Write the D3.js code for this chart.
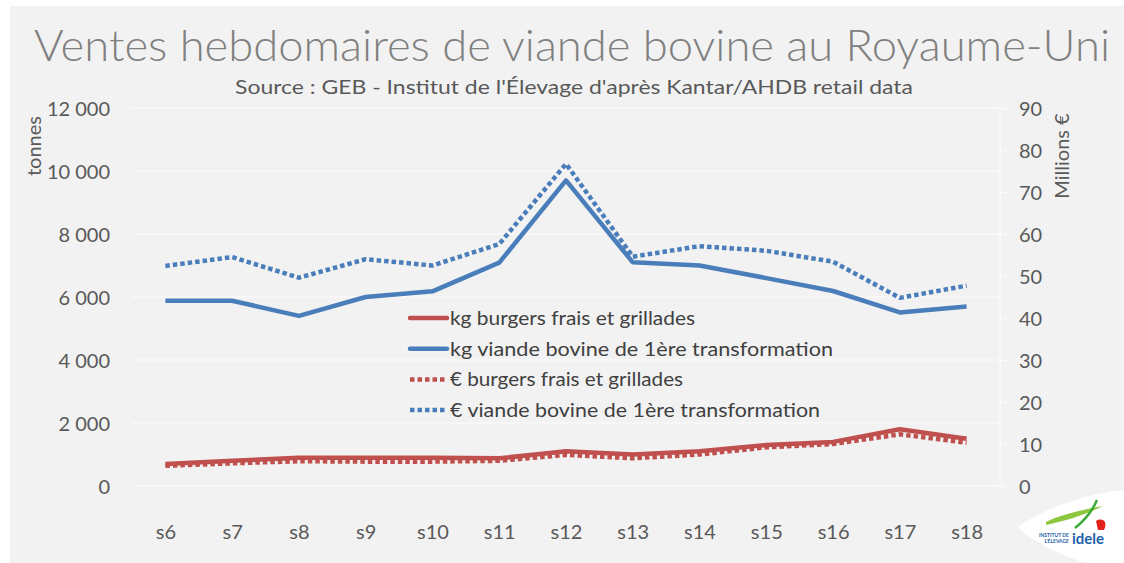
<!DOCTYPE html>
<html>
<head>
<meta charset="utf-8">
<script src="https://cdn.jsdelivr.net/npm/d3@7"></script>
<style>
  body { margin: 0; background: #fff; }
  svg { display: block; font-family: "Lato", "DejaVu Sans", sans-serif; }
</style>
</head>
<body>
<svg id="chart" width="1124" height="563"></svg>
<script>
// weekly data
var weeks = ["s6", "s7", "s8", "s9", "s10", "s11", "s12", "s13", "s14", "s15", "s16", "s17", "s18"];
var kgBurgers = [700, 800, 900, 900, 900, 880, 1100, 1000, 1100, 1300, 1400, 1800, 1500];
var kgViande = [5880, 5880, 5400, 6000, 6180, 7090, 9700, 7100, 7000, 6600, 6190, 5510, 5700];
var eurBurgers = [4.8, 5.4, 5.9, 5.8, 5.8, 6.0, 7.4, 6.6, 7.5, 9.2, 10.0, 12.3, 10.3];
var eurViande = [52.4, 54.5, 49.6, 54.0, 52.5, 57.6, 76.7, 54.6, 57.1, 56.0, 53.4, 44.8, 47.7];
var leftTicks = [0, 2000, 4000, 6000, 8000, 10000, 12000];
var rightTicks = [0, 10, 20, 30, 40, 50, 60, 70, 80, 90];
var legendNames = [
  "kg burgers frais et grillades",
  "kg viande bovine de 1ère transformation",
  "€ burgers frais et grillades",
  "€ viande bovine de 1ère transformation"
];

var RED = "#c0504d", BLUE = "#4a7ebb";

var svg = d3.select("#chart");

svg.append("rect")
  .attr("x", 10).attr("y", 6)
  .attr("width", 1114).attr("height", 557)
  .attr("fill", "#f2f2f2");

var plot = { left: 132, right: 1000, top: 108, bottom: 486 };

var x = d3.scalePoint()
  .domain(weeks)
  .range([plot.left, plot.right])
  .padding(0.5);

var yL = d3.scaleLinear().domain([0, 12000]).range([plot.bottom, plot.top]);
var yR = d3.scaleLinear().domain([0, 90]).range([plot.bottom, plot.top]);

// gridlines
svg.append("g")
  .selectAll("line")
  .data(leftTicks)
  .enter().append("line")
    .attr("x1", plot.left).attr("x2", plot.right)
    .attr("y1", function(d) { return yL(d); })
    .attr("y2", function(d) { return yL(d); })
    .attr("stroke", "#fbfbfb")
    .attr("stroke-width", 1.2);

// right axis line + ticks
svg.append("line")
  .attr("x1", plot.right).attr("x2", plot.right)
  .attr("y1", plot.top).attr("y2", plot.bottom)
  .attr("stroke", "#fbfbfb").attr("stroke-width", 1.2);

var fmt = function(d) { return d3.format(",")(d).replace(/,/g, " "); };

var leftAxis = svg.append("g")
  .attr("transform", "translate(" + plot.left + ",0)")
  .call(d3.axisLeft(yL).tickValues(leftTicks).tickFormat(fmt).tickSize(0).tickPadding(22));

var rightAxis = svg.append("g")
  .attr("transform", "translate(" + plot.right + ",0)")
  .call(d3.axisRight(yR).tickValues(rightTicks).tickSize(7).tickPadding(12));

var bottomAxis = svg.append("g")
  .attr("transform", "translate(0," + (plot.bottom + 46) + ")")
  .call(d3.axisBottom(x).tickSize(0).tickPadding(0));

[leftAxis, rightAxis, bottomAxis].forEach(function(a) {
  a.select(".domain").remove();
  a.selectAll("text")
    .attr("fill", "#595959")
    .style("font-family", "Lato, sans-serif")
    .style("font-size", "20px");
});
rightAxis.selectAll("line").attr("stroke", "#fbfbfb").attr("stroke-width", 1.2);
leftAxis.selectAll("text").attr("dy", "0.35em");
rightAxis.selectAll("text").attr("dy", "0.35em");
bottomAxis.selectAll("text").attr("dy", "0.35em");

// axis titles
svg.append("text")
  .attr("transform", "translate(41,146) rotate(-90)")
  .attr("text-anchor", "middle")
  .attr("fill", "#595959")
  .style("font-size", "20px")
  .text("tonnes");

svg.append("text")
  .attr("transform", "translate(1069,156) rotate(-90)")
  .attr("text-anchor", "middle")
  .attr("fill", "#595959")
  .style("font-size", "20px")
  .text("Millions €");

// series
var series = [
  { values: kgViande, scale: yL, color: BLUE, dash: null },
  { values: eurViande, scale: yR, color: BLUE, dash: "4.5,3" },
  { values: eurBurgers, scale: yR, color: RED, dash: "4.5,3" },
  { values: kgBurgers, scale: yL, color: RED, dash: null }
];

series.forEach(function(s) {
  var line = d3.line()
    .x(function(d, i) { return x(weeks[i]); })
    .y(function(d) { return s.scale(d); });
  svg.append("path")
    .datum(s.values)
    .attr("d", line)
    .attr("fill", "none")
    .attr("stroke", s.color)
    .attr("stroke-width", 4.5)
    .attr("stroke-linejoin", "round")
    .attr("stroke-dasharray", s.dash);
});

// legend
var legend = svg.append("g").attr("transform", "translate(410,318)");
var legendStyles = [
  { color: RED, dash: null, w: 245 },
  { color: BLUE, dash: null, w: 383 },
  { color: RED, dash: "4.5,3", w: 233 },
  { color: BLUE, dash: "4.5,3", w: 370 }
];
legendNames.forEach(function(name, i) {
  var g = legend.append("g").attr("transform", "translate(0," + (i * 30.7) + ")");
  g.append("line")
    .attr("x1", 0).attr("x2", 37)
    .attr("stroke", legendStyles[i].color)
    .attr("stroke-width", 4.5)
    .attr("stroke-linecap", legendStyles[i].dash ? "butt" : "round")
    .attr("stroke-dasharray", legendStyles[i].dash);
  g.append("text")
    .attr("x", 40).attr("dy", "0.35em")
    .attr("fill", "#404040")
    .attr("textLength", legendStyles[i].w)
    .attr("lengthAdjust", "spacingAndGlyphs")
    .style("font-size", "19.5px")
    .text(name);
});

// title
svg.append("text")
  .attr("x", 572).attr("y", 61)
  .attr("text-anchor", "middle")
  .attr("fill", "#808080")
  .attr("textLength", 1076)
  .attr("lengthAdjust", "spacingAndGlyphs")
  .style("font-size", "44px")
  .style("font-weight", 300)
  .text("Ventes hebdomaires de viande bovine au Royaume-Uni");

svg.append("text")
  .attr("x", 574).attr("y", 94)
  .attr("text-anchor", "middle")
  .attr("fill", "#595959")
  .attr("textLength", 678)
  .attr("lengthAdjust", "spacingAndGlyphs")
  .style("font-size", "20px")
  .text("Source : GEB - Institut de l'Élevage d'après Kantar/AHDB retail data");

// logo
var logo = svg.append("g");
logo.append("path")
  .attr("d", "M1018,527 C1040,510 1090,492 1124,490 L1124,563 L1085,563 C1060,555 1030,540 1018,527 Z")
  .attr("fill", "#ffffff");
logo.append("path")
  .attr("d", "M1046,522 C1060,515 1080,510 1103,506 C1085,515 1068,520 1046,525 Z")
  .attr("fill", "#8dc63f");
logo.append("path")
  .attr("d", "M1075,528 C1085,520 1092,512 1097,500")
  .attr("fill", "none").attr("stroke", "#3aaa35").attr("stroke-width", 2.5);
logo.append("path")
  .attr("d", "M1096,521 C1103,517 1108,522 1104,530 L1098,530 Z")
  .attr("fill", "#e2211c");
logo.append("text")
  .attr("x", 1072).attr("y", 544)
  .attr("fill", "#1d5fa8")
  .style("font-size", "15px").style("font-weight", "bold")
  .text("idele");
logo.append("text")
  .attr("x", 1069).attr("y", 537)
  .attr("text-anchor", "end")
  .attr("fill", "#1d5fa8")
  .style("font-size", "5px").style("font-weight", "bold")
  .text("INSTITUT DE");
logo.append("text")
  .attr("x", 1069).attr("y", 543)
  .attr("text-anchor", "end")
  .attr("fill", "#1d5fa8")
  .style("font-size", "5px").style("font-weight", "bold")
  .text("L'ÉLEVAGE");
</script>
</body>
</html>
